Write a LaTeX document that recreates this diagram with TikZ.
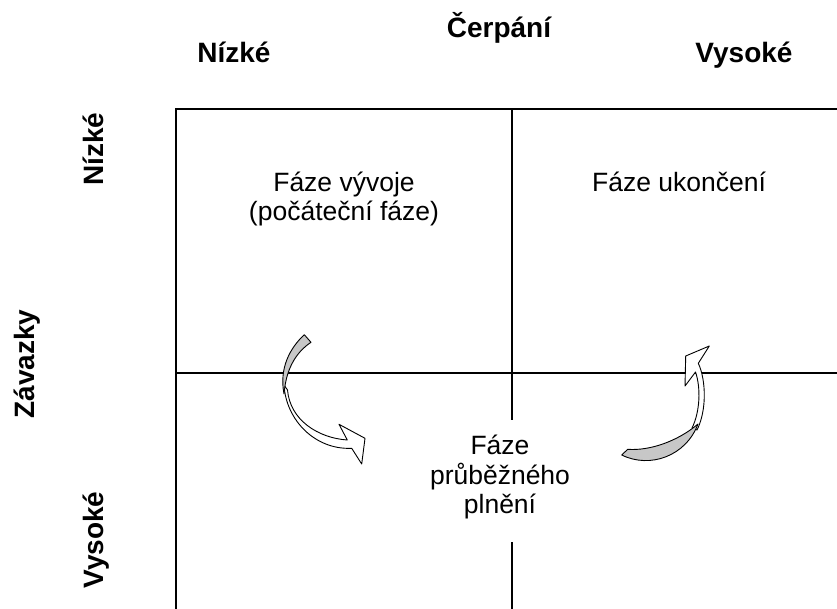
\documentclass[tikz,border=0pt]{standalone}
\usepackage{fontspec}
\setmainfont{Liberation Sans}
\begin{document}
\begin{tikzpicture}[x=1pt,y=-1pt,
  hdr/.style={font=\fontsize{28}{30}\selectfont\bfseries, inner sep=0pt, anchor=base},
  body/.style={font=\fontsize{26.5}{29.5}\selectfont, inner sep=0pt, anchor=base},
  gridline/.style={line width=1.4pt},
  band/.style={draw=black, line width=0.9pt, line join=round}]
\useasboundingbox (0,0) rectangle (837,609);
% grid coordinates
\coordinate (tl) at (176,109);
\coordinate (tr) at (837,109);
\coordinate (bl) at (176,609);
\coordinate (mt) at (512,109);
\coordinate (mg1) at (512,420);
\coordinate (mg2) at (512,542);
\coordinate (mb) at (512,609);
\coordinate (ml) at (176,373);
\coordinate (mr) at (837,373);
\draw[gridline] (tr) -- (tl) -- (bl);
\draw[gridline] (mt) -- (mg1);
\draw[gridline] (mg2) -- (mb);
\draw[gridline] (ml) -- (mr);
% headers
\node[hdr] (cerp) at (499,38) {Čerpání};
\node[hdr] (cn) at (234,63) {Nízké};
\node[hdr] (cv) at (744,63) {Vysoké};
\node[hdr, rotate=90] (zn) at (103,149) {Nízké};
\node[hdr, rotate=90] (zav) at (34,364) {Závazky};
\node[hdr, rotate=90] (zv) at (103,540) {Vysoké};
% quadrant texts
\node[body] (vyv1) at (344,192) {Fáze vývoje};
\node[body] (vyv2) at (344,221) {(počáteční fáze)};
\node[body] (uk) at (679,192) {Fáze ukončení};
\node[body] (pr1) at (500,454) {Fáze};
\node[body] (pr2) at (500,484) {průběžného};
\node[body] (pr3) at (500,513) {plnění};
% left curved arrow
\draw[band, fill=white] (284,385) .. controls (286,420) and (315,450) .. (351.7,448.3)
  -- (361.7,464) -- (365,438.3) -- (339,424.3) -- (347.3,440)
  .. controls (318,438) and (290,420) .. (287.5,390) -- cycle;
\draw[band, fill=black!22] (304.3,334.7) .. controls (290,348) and (279,368) .. (284,394)
  .. controls (286,370) and (295,353) .. (311,342.3) -- cycle;
% right curved arrow
\draw[band, fill=white] (692,428) .. controls (700,412) and (701,388) .. (695.5,372)
  -- (685,386) -- (685.7,356) -- (709.3,346) -- (698.3,363.3)
  .. controls (706,380) and (707,410) .. (697,430) -- cycle;
\draw[band, fill=black!22] (621.7,455) .. controls (650,469) and (686,456) .. (698,424)
  .. controls (678,441) and (650,451) .. (627.7,449.3) -- cycle;
\end{tikzpicture}
\end{document}
